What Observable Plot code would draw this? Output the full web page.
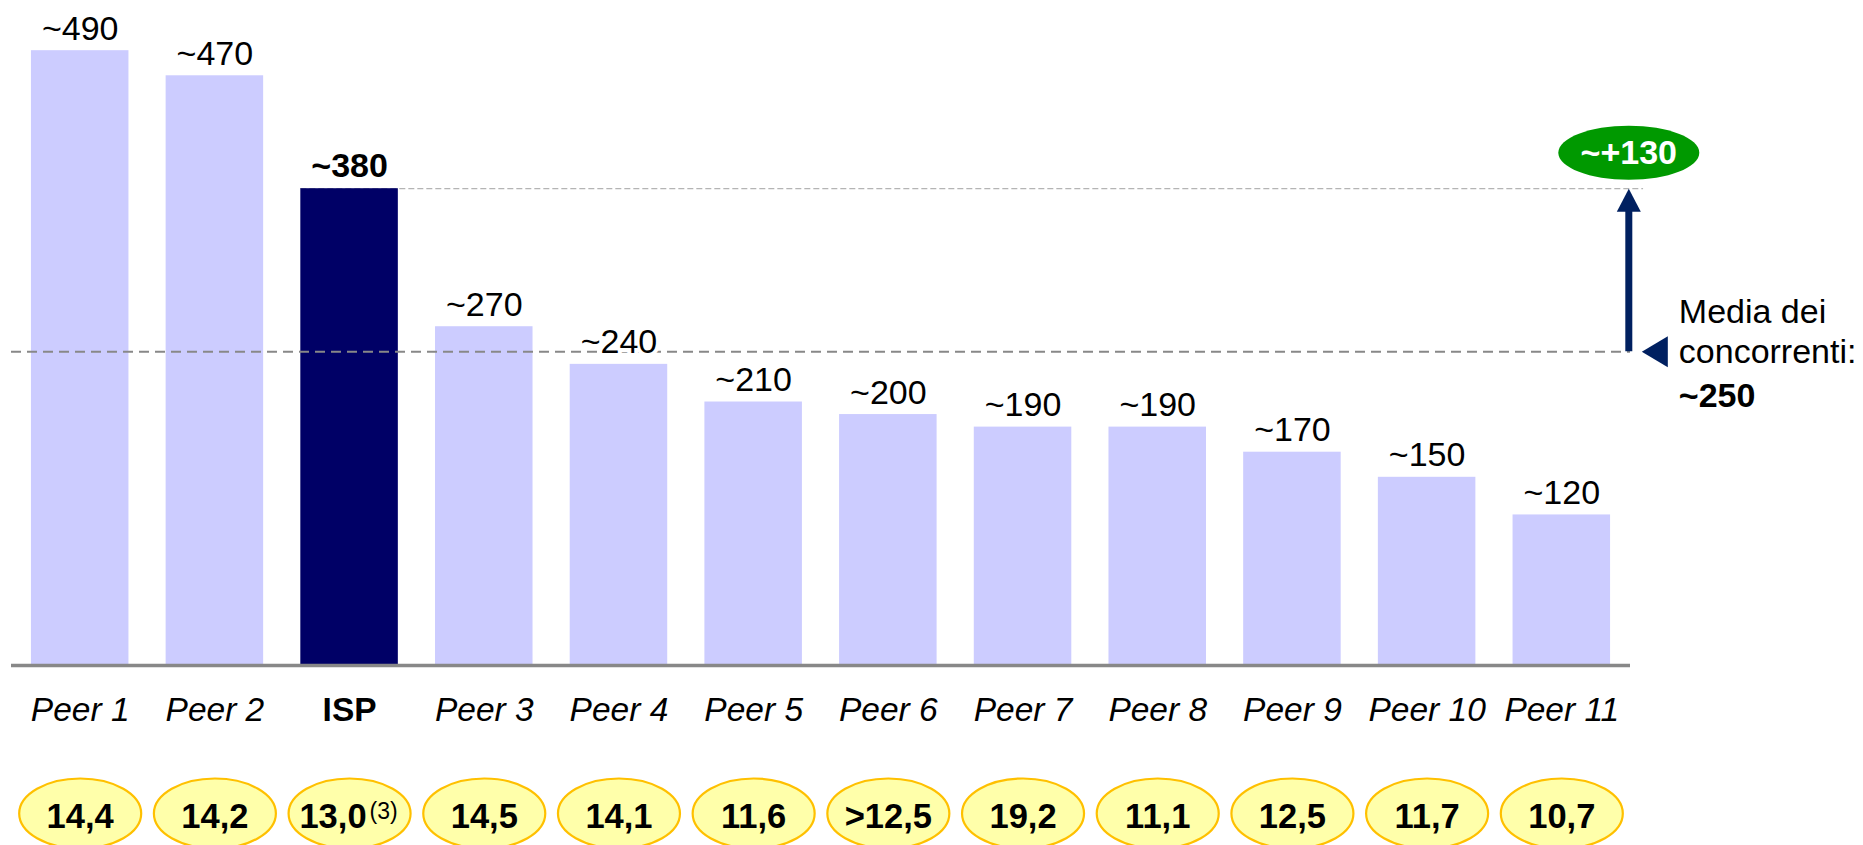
<!DOCTYPE html>
<html>
<head>
<meta charset="utf-8">
<script src="https://cdn.jsdelivr.net/npm/d3@7"></script>
<script src="https://cdn.jsdelivr.net/npm/@observablehq/plot@0.6"></script>
<style>
  html, body { margin: 0; padding: 0; background: #fff; overflow: hidden; }
  #chart svg { display: block; font-family: "Liberation Sans", Arial, sans-serif; }
</style>
</head>
<body>
<div id="chart"></div>
<script>
// ---- data ----
const categories = ["Peer 1", "Peer 2", "ISP", "Peer 3", "Peer 4", "Peer 5", "Peer 6", "Peer 7", "Peer 8", "Peer 9", "Peer 10", "Peer 11"];
const values = [490, 470, 380, 270, 240, 210, 200, 190, 190, 170, 150, 120];
const valueLabels = ["~490", "~470", "~380", "~270", "~240", "~210", "~200", "~190", "~190", "~170", "~150", "~120"];
const ratioLabels = ["14,4", "14,2", "13,0", "14,5", "14,1", "11,6", ">12,5", "19,2", "11,1", "12,5", "11,7", "10,7"];
const highlight = "ISP";
const highlightNote = "(3)";
const peerAverage = 250;
const averageLabelLines = ["Media dei", "concorrenti:"];
const averageValueLabel = "~250";
const gapLabel = "~+130";

const rows = categories.map((c, i) => ({cat: c, value: values[i], label: valueLabels[i], ratio: ratioLabels[i]}));
const peers = rows.filter(d => d.cat !== highlight);
const isp = rows.filter(d => d.cat === highlight);
const ispValue = isp[0].value;
const lastCat = categories[categories.length - 1];

// ---- custom symbols ----
function ellipseSymbol(rx, ry) {
  const k = 0.5523, kx = rx * k, ky = ry * k;
  return {draw(ctx) {
    ctx.moveTo(-rx, 0);
    ctx.bezierCurveTo(-rx, -ky, -kx, -ry, 0, -ry);
    ctx.bezierCurveTo(kx, -ry, rx, -ky, rx, 0);
    ctx.bezierCurveTo(rx, ky, kx, ry, 0, ry);
    ctx.bezierCurveTo(-kx, ry, -rx, ky, -rx, 0);
    ctx.closePath();
  }};
}
const upHead = {draw(ctx) { ctx.moveTo(0, 0); ctx.lineTo(12, 23); ctx.lineTo(-12, 23); ctx.closePath(); }};
const leftHead = {draw(ctx) { ctx.moveTo(0, 0); ctx.lineTo(26, -15.5); ctx.lineTo(26, 15.5); ctx.closePath(); }};

const navy = "#000066";
const arrowColor = "#002060";
const annX = 67;   // offset of annotation column from last band centre

const chart = Plot.plot({
  width: 1863,
  height: 845,
  marginTop: 0,
  marginBottom: 180,
  marginLeft: 11,
  marginRight: 233,
  style: {fontFamily: "'Liberation Sans', Arial, sans-serif", background: "#fff", overflow: "visible"},
  x: {domain: categories, paddingInner: 0.276, paddingOuter: 0.148, round: false, axis: null},
  y: {domain: [0, 530], axis: null},
  marks: [
    // ISP reference line (behind bars)
    Plot.ruleY([ispValue], {x1: () => highlight, x2: () => lastCat, insetRight: -33, stroke: "#b4b4b4", strokeWidth: 1.3, strokeDasharray: "6,3"}),
    // bars
    Plot.barY(rows, {x: "cat", y: "value", fill: d => d.cat === highlight ? navy : "#CCCCFF"}),
    // peer average line
    Plot.ruleY([peerAverage], {stroke: "#888888", strokeWidth: 2, strokeDasharray: "10,6"}),
    // baseline
    Plot.ruleY([0], {stroke: "#888888", strokeWidth: 3.5}),
    // value labels
    Plot.text(peers, {x: "cat", y: "value", text: "label", dy: -11, lineAnchor: "bottom", fontSize: 34, fill: "#000", stroke: "#fff", strokeWidth: 8}),
    Plot.text(isp, {x: "cat", y: "value", text: "label", dy: -12, lineAnchor: "bottom", fontSize: 34, fontWeight: "bold", fill: "#000", stroke: "#fff", strokeWidth: 8}),
    // category labels
    Plot.text(peers, {x: "cat", y: 0, text: "cat", dy: 55, lineAnchor: "bottom", fontSize: 33.5, fontStyle: "italic", fill: "#000"}),
    Plot.text(isp, {x: "cat", y: 0, text: "cat", dy: 55, lineAnchor: "bottom", fontSize: 33.5, fontWeight: "bold", fill: "#000"}),
    // ratio ellipses
    Plot.dot(rows, {x: "cat", y: 0, dy: 148, symbol: ellipseSymbol(61, 35), fill: "#FFFFAA", stroke: "#FFC000", strokeWidth: 2.2}),
    Plot.text(peers, {x: "cat", y: 0, text: "ratio", dy: 162, lineAnchor: "bottom", fontSize: 34.5, fontWeight: "bold", fill: "#000"}),
    Plot.text(isp, {x: "cat", y: 0, text: "ratio", dy: 162, dx: 17, textAnchor: "end", lineAnchor: "bottom", fontSize: 34.5, fontWeight: "bold", fill: "#000"}),
    Plot.text(isp, {x: "cat", y: 0, text: () => highlightNote, dy: 153, dx: 20, textAnchor: "start", lineAnchor: "bottom", fontSize: 23, fill: "#000"}),
    // gap arrow
    Plot.ruleX([lastCat], {y1: peerAverage, y2: ispValue - 10, dx: annX, stroke: arrowColor, strokeWidth: 7}),
    Plot.dot([lastCat], {x: d => d, y: ispValue, dx: annX, symbol: upHead, fill: arrowColor, stroke: "none"}),
    Plot.dot([lastCat], {x: d => d, y: ispValue, dx: annX, dy: -36, symbol: ellipseSymbol(70.5, 27), fill: "#009900", stroke: "none"}),
    Plot.text([gapLabel], {x: () => lastCat, y: ispValue, dx: annX, dy: -36, text: d => d, lineAnchor: "middle", fontSize: 34, fontWeight: "bold", fill: "#fff"}),
    // peer average pointer + label
    Plot.dot([lastCat], {x: d => d, y: peerAverage, dx: annX + 13, symbol: leftHead, fill: arrowColor, stroke: "none"}),
    Plot.text([averageLabelLines[0]], {x: () => lastCat, y: peerAverage, dx: annX + 50, dy: -29, text: d => d, textAnchor: "start", lineAnchor: "bottom", fontSize: 34, fill: "#000"}),
    Plot.text([averageLabelLines[1]], {x: () => lastCat, y: peerAverage, dx: annX + 50, dy: 11, text: d => d, textAnchor: "start", lineAnchor: "bottom", fontSize: 34, fill: "#000"}),
    Plot.text([averageValueLabel], {x: () => lastCat, y: peerAverage, dx: annX + 50, dy: 55, text: d => d, textAnchor: "start", lineAnchor: "bottom", fontSize: 34, fontWeight: "bold", fill: "#000"})
  ]
});
document.getElementById("chart").appendChild(chart);
</script>
</body>
</html>
